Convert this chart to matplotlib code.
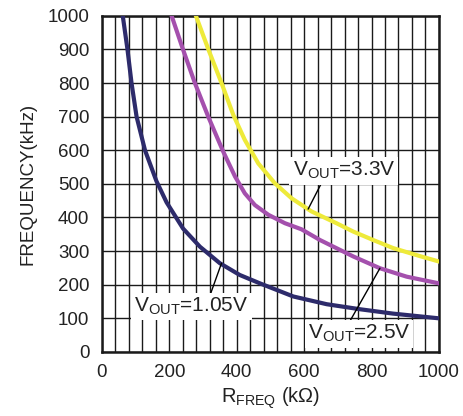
import matplotlib
matplotlib.use("Agg")
import matplotlib.pyplot as plt
from matplotlib.ticker import MultipleLocator

plt.rcParams["font.family"] = ["Liberation Sans", "DejaVu Sans"]
plt.rcParams["mathtext.default"] = "regular"

# curves: R_FREQ (kOhm) vs frequency (kHz)
r_105 = [62, 76, 88, 103, 128, 162, 192, 241, 291, 350, 409, 469, 568, 667, 766, 864, 1000]
f_105 = [1000, 900, 800, 700, 600, 508, 445, 367, 313, 264, 229, 204, 165, 142, 127, 114, 100]

r_25 = [207, 241, 276, 316, 360, 395, 424, 454, 494, 543, 592, 647, 746, 825, 904, 1000]
f_25 = [1000, 899, 800, 699, 596, 522, 472, 437, 408, 383, 365, 333, 284, 249, 224, 204]

r_33 = [279, 316, 355, 390, 424, 464, 513, 563, 622, 696, 746, 805, 864, 944, 1000]
f_33 = [1000, 900, 800, 705, 631, 561, 502, 457, 418, 383, 358, 333, 309, 285, 269]

x_ticks = [0, 200, 400, 600, 800, 1000]
y_ticks = [0, 100, 200, 300, 400, 500, 600, 700, 800, 900, 1000]

fig = plt.figure(figsize=(4.63, 4.16), dpi=100)
ax = fig.add_axes([0.220, 0.154, 0.728, 0.808])

ax.plot(r_105, f_105, color="#2d2b6b", lw=3, solid_joinstyle="round", zorder=3)
ax.plot(r_25, f_25, color="#a450ad", lw=3, solid_joinstyle="round", zorder=3)
ax.plot(r_33, f_33, color="#eeea3a", lw=3, solid_joinstyle="round", zorder=3)

ax.set_xlim(0, 1000)
ax.set_ylim(0, 1000)
ax.set_xticks(x_ticks)
ax.set_yticks(y_ticks)
ax.xaxis.set_minor_locator(MultipleLocator(40))
ax.tick_params(which="both", length=0, labelsize=13.5, pad=9, colors="#222222")
ax.grid(True, which="both", color="#1a1a1a", lw=1.0, zorder=1)
ax.set_axisbelow(True)
for s in ax.spines.values():
    s.set_linewidth(1.8)
    s.set_color("#1a1a1a")

ax.set_xlabel("R$_{FREQ}$ (kΩ)", fontsize=14.5, color="#222222", labelpad=3)
ax.set_ylabel("FREQUENCY(kHz)", fontsize=13.5, color="#222222", labelpad=8)

box = dict(boxstyle="square,pad=0.15", fc="white", ec="none")
ax.annotate("V$_{OUT}$=3.3V", xy=(612, 425), xytext=(718, 539),
            ha="center", va="center", fontsize=15, color="#222222", bbox=box,
            arrowprops=dict(arrowstyle="-", color="black", lw=1.0,
                            relpos=(0.29, 0.0), shrinkA=0, shrinkB=0), zorder=5)
ax.annotate("V$_{OUT}$=1.05V", xy=(355, 264), xytext=(266, 135),
            ha="center", va="center", fontsize=15, color="#222222", bbox=box,
            arrowprops=dict(arrowstyle="-", color="black", lw=1.0,
                            relpos=(0.66, 1.0), shrinkA=0, shrinkB=0), zorder=5)
ax.annotate("V$_{OUT}$=2.5V", xy=(825, 249), xytext=(763, 54),
            ha="center", va="center", fontsize=15, color="#222222", bbox=box,
            arrowprops=dict(arrowstyle="-", color="black", lw=1.0,
                            relpos=(0.40, 1.0), shrinkA=0, shrinkB=0), zorder=5)

fig.savefig("out.png", dpi=100)
